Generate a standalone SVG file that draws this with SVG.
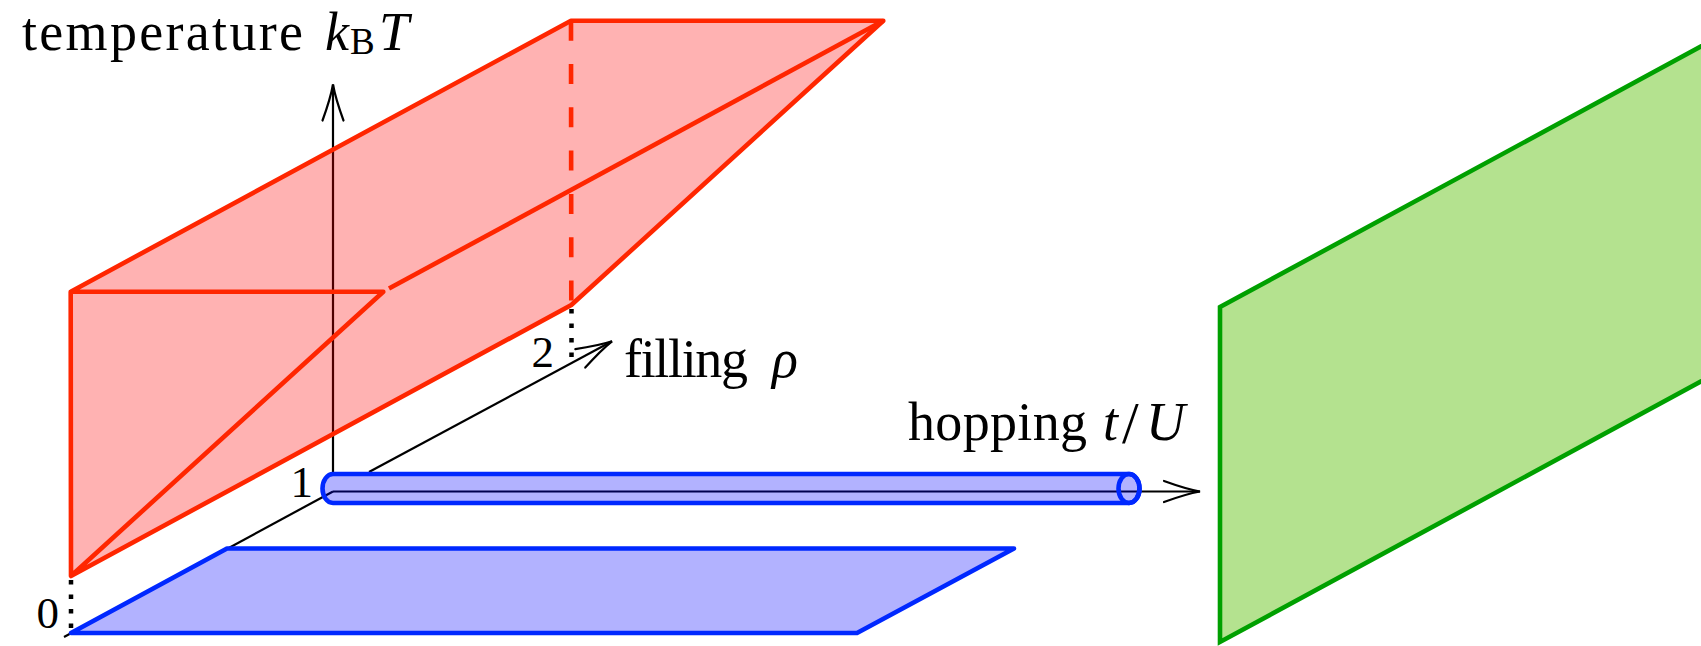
<svg xmlns="http://www.w3.org/2000/svg" width="1701" height="646" viewBox="0 0 1701 646">
<style>
.axis{stroke:#000;stroke-width:2.2;fill:none}
.dot{stroke:#000;stroke-width:4.5;stroke-dasharray:4.5 10;fill:none}
.red{stroke:#ff2600;stroke-width:4.6;fill:none;stroke-linejoin:round}
.blue{stroke:#0028ff;stroke-width:4.6;stroke-linejoin:round}
.txt{font-family:"Liberation Serif","Times New Roman",serif;font-size:54px;fill:#000}
.it{font-style:italic}
.num{font-family:"Liberation Serif","Times New Roman",serif;font-size:45px;fill:#000}
</style>
<defs>
<marker id="arr" markerUnits="userSpaceOnUse" viewBox="-40 -14 44 28" markerWidth="44" markerHeight="28" refX="0" refY="0" orient="auto" overflow="visible">
<path d="M -36,-10.5 Q -14,-2.5 0,0 Q -14,2.5 -36,10.5" fill="none" stroke="#000" stroke-width="2.2" stroke-linecap="round"/>
</marker>
</defs>

<g id="green-plane">
<polygon points="1220,307 1712,40.5 1712,375.5 1220,642" fill="#b4e28f" stroke="#00a000" stroke-width="4.6" stroke-linejoin="miter"/>
</g>

<g id="connectors">
<line id="axis-filling-a" class="axis" x1="64" y1="637" x2="333" y2="491.5"/>
<line id="axis-filling-b" class="axis" x1="369" y1="472" x2="612" y2="341.3" marker-end="url(#arr)"/>
<line id="axis-temperature" class="axis" x1="333" y1="474" x2="333" y2="84.5" marker-end="url(#arr)"/>
<line id="axis-hopping" class="axis" x1="333" y1="491.5" x2="1200" y2="491.5" marker-end="url(#arr)"/>
<line id="tick-0" class="dot" x1="71" y1="580" x2="71" y2="633"/>
<line id="tick-2" class="dot" x1="571.5" y1="309" x2="571.5" y2="362"/>
</g>

<g id="red-prism">
<polygon points="70.7,291.7 571,20.7 883.3,20.7 571.3,305 71,576" fill="#ff0000" fill-opacity="0.3" stroke="none"/>
<line class="red" x1="571" y1="20.7" x2="571.3" y2="305" stroke-dasharray="20 23.3"/>
<polyline class="red" points="70.7,291.7 571,20.7 883.3,20.7 571.3,305 71,576 70.7,291.7 383.3,291.7 71,576"/>
<line class="red" x1="883.3" y1="20.7" x2="389" y2="288.6"/>
</g>

<g id="blue-plane">
<polygon class="blue" points="71,633 227,548.5 1014,548.5 857,633" fill="#0000ff" fill-opacity="0.3"/>
</g>

<g id="blue-tube">
<path class="blue" d="M 333,474 L 1129,474 A 10.5,14.5 0 0 1 1129,503 L 333,503 A 10.5,14.5 0 0 1 333,474 Z" fill="#0000ff" fill-opacity="0.3"/>
<ellipse class="blue" cx="1129" cy="488.5" rx="10.5" ry="14.5" fill="none"/>
</g>

<g id="labels">
<text class="txt" x="22" y="50" textLength="281" lengthAdjust="spacing">temperature</text>
<text class="txt it" x="325" y="50">k</text>
<text class="txt" x="350" y="54" style="font-size:37px">B</text>
<text class="txt it" x="379" y="50">T</text>
<text class="txt" x="624" y="377" textLength="124" lengthAdjust="spacing">filling</text>
<text class="txt it" x="772" y="377">ρ</text>
<text class="txt" x="908" y="440" textLength="179" lengthAdjust="spacing">hopping</text>
<text class="txt it" x="1103" y="440">t</text>
<text class="txt" x="1122" y="443" style="font-size:60px">/</text>
<text class="txt it" x="1146" y="440">U</text>
<text class="num" x="554" y="367" text-anchor="end">2</text>
<text class="num" x="313" y="497" text-anchor="end">1</text>
<text class="num" x="59" y="628" text-anchor="end">0</text>
</g>
</svg>
